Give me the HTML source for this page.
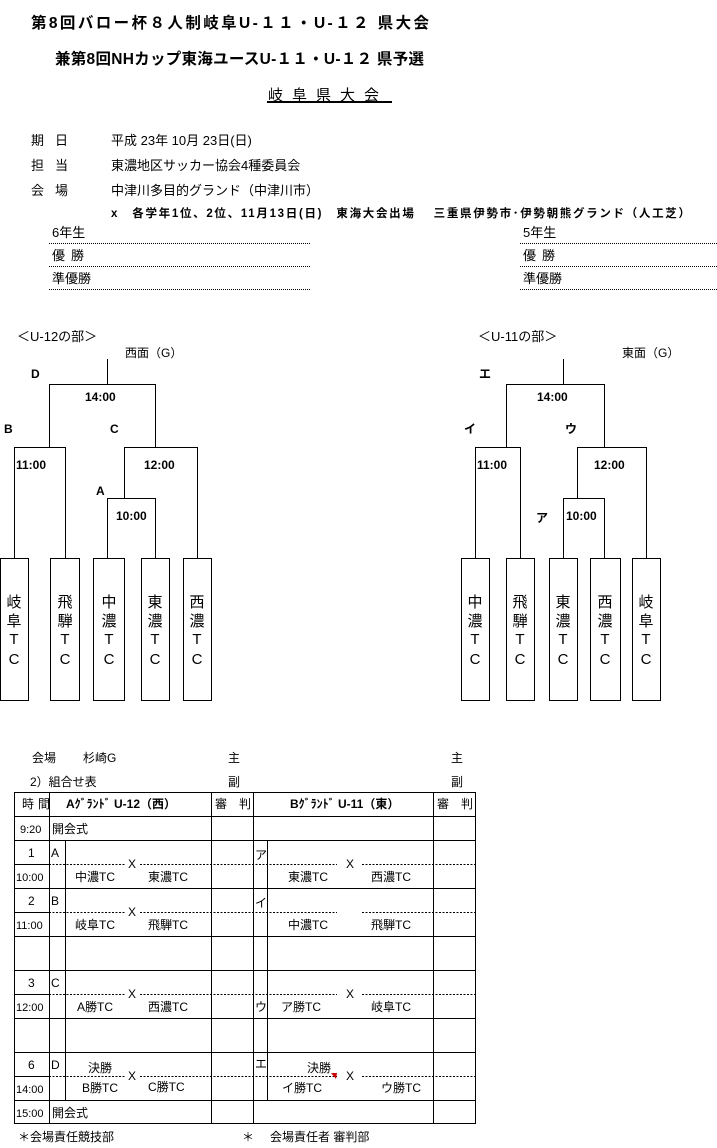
<!DOCTYPE html>
<html><head><meta charset="utf-8"><style>
html,body{margin:0;padding:0;background:#fff;}
svg{display:block;font-family:"Liberation Sans","Noto Sans CJK JP",sans-serif;}
text{fill:#000;}
</style></head><body>
<svg width="717" height="1148" viewBox="0 0 717 1148" xmlns="http://www.w3.org/2000/svg">
<g font-size="15.5">
<text x="31" y="28" font-weight="bold" textLength="398" lengthAdjust="spacing">第8回バロー杯８人制岐阜U-１１・U-１２ 県大会</text>
<text x="55" y="64" font-weight="bold" textLength="369" lengthAdjust="spacing">兼第8回NHカップ東海ユースU-１１・U-１２ 県予選</text>
</g>
<text x="268" y="100" font-size="15" letter-spacing="9">岐阜県大会</text>
<line x1="267" y1="102" x2="392" y2="102" stroke="#000" stroke-width="2"/>
<g font-size="13">
<text x="31" y="145" letter-spacing="11">期日</text><text x="111" y="145">平成 23年 10月 23日(日)</text>
<text x="31" y="170" letter-spacing="11">担当</text><text x="111" y="170">東濃地区サッカー協会4種委員会</text>
<text x="31" y="195" letter-spacing="11">会場</text><text x="111" y="195">中津川多目的グランド（中津川市）</text>
<text x="111" y="217" font-size="11.5" font-weight="bold" textLength="579" lengthAdjust="spacing">x　各学年1位、2位、11月13日(日)　東海大会出場　 三重県伊勢市･伊勢朝熊グランド（人工芝）</text>
<text x="52" y="237">6年生</text><text x="52" y="260" letter-spacing="6">優勝</text><text x="52" y="283">準優勝</text>
<text x="523" y="237">5年生</text><text x="523" y="260" letter-spacing="6">優勝</text><text x="523" y="283">準優勝</text>
</g>
<g stroke="#000" stroke-width="1" stroke-dasharray="1,1">
<line x1="49" y1="243.5" x2="310" y2="243.5"/><line x1="49" y1="266.5" x2="310" y2="266.5"/><line x1="49" y1="289.5" x2="310" y2="289.5"/>
<line x1="520" y1="243.5" x2="717" y2="243.5"/><line x1="520" y1="266.5" x2="717" y2="266.5"/><line x1="520" y1="289.5" x2="717" y2="289.5"/>
</g>

<g font-size="13"><text x="17" y="341">＜U-12の部＞</text><text x="125" y="357" font-size="12">西面（G）</text>
<text x="478" y="341">＜U-11の部＞</text><text x="622" y="357" font-size="12">東面（G）</text></g>
<g fill="none" stroke="#000" stroke-width="1">
<path d="M107.5 359V384.5M49.5 447V384.5H155.5V447M14.5 558V447.5H65.5V558M124.5 498V447.5H197.5V558M107.5 558V498.5H155.5V558"/>
<rect x="0.5" y="558.5" width="28" height="142"/><rect x="50.5" y="558.5" width="29" height="142"/><rect x="93.5" y="558.5" width="31" height="142"/><rect x="141.5" y="558.5" width="28" height="142"/><rect x="183.5" y="558.5" width="28" height="142"/>
<path d="M563.5 359V384.5M506.5 447V384.5H604.5V447M475.5 558V447.5H520.5V558M577.5 498V447.5H646.5V558M563.5 558V498.5H604.5V558"/>
<rect x="461.5" y="558.5" width="28" height="142"/><rect x="506.5" y="558.5" width="28" height="142"/><rect x="549.5" y="558.5" width="28" height="142"/><rect x="590.5" y="558.5" width="30" height="142"/><rect x="632.5" y="558.5" width="28" height="142"/>
</g>
<g font-size="12" font-weight="bold">
<text x="31" y="378">D</text><text x="85" y="401">14:00</text><text x="4" y="433">B</text><text x="110" y="433">C</text>
<text x="16" y="469">11:00</text><text x="144" y="469">12:00</text><text x="96" y="495">A</text><text x="116" y="520">10:00</text>
<text x="479" y="378">エ</text><text x="537" y="401">14:00</text><text x="464" y="433">イ</text><text x="565" y="433">ウ</text>
<text x="477" y="469">11:00</text><text x="594" y="469">12:00</text><text x="536" y="522">ア</text><text x="566" y="520">10:00</text>
</g>
<g font-size="15" text-anchor="middle">
<text x="14" y="607">岐</text><text x="14" y="626">阜</text><text x="14" y="644">T</text><text x="14" y="664">C</text>
<text x="65" y="607">飛</text><text x="65" y="626">騨</text><text x="65" y="644">T</text><text x="65" y="664">C</text>
<text x="109" y="607">中</text><text x="109" y="626">濃</text><text x="109" y="644">T</text><text x="109" y="664">C</text>
<text x="155" y="607">東</text><text x="155" y="626">濃</text><text x="155" y="644">T</text><text x="155" y="664">C</text>
<text x="197" y="607">西</text><text x="197" y="626">濃</text><text x="197" y="644">T</text><text x="197" y="664">C</text>
<text x="475" y="607">中</text><text x="475" y="626">濃</text><text x="475" y="644">T</text><text x="475" y="664">C</text>
<text x="520" y="607">飛</text><text x="520" y="626">騨</text><text x="520" y="644">T</text><text x="520" y="664">C</text>
<text x="563" y="607">東</text><text x="563" y="626">濃</text><text x="563" y="644">T</text><text x="563" y="664">C</text>
<text x="605" y="607">西</text><text x="605" y="626">濃</text><text x="605" y="644">T</text><text x="605" y="664">C</text>
<text x="646" y="607">岐</text><text x="646" y="626">阜</text><text x="646" y="644">T</text><text x="646" y="664">C</text>
</g>

<g font-size="12">
<text x="32" y="762">会場</text><text x="83" y="762">杉崎G</text><text x="228" y="762">主</text><text x="451" y="762">主</text>
<text x="30" y="786">2）組合せ表</text><text x="228" y="786">副</text><text x="451" y="786">副</text>
<text x="18" y="1141">＊会場責任競技部</text><text x="242" y="1141">＊</text><text x="270" y="1141">会場責任者 審判部</text>
</g>
<g fill="none" stroke="#000" stroke-width="1">
<rect x="14.5" y="792.5" width="461" height="331"/>
<path d="M14.5 816.5H475.5M14.5 840.5H475.5M14.5 888.5H475.5M14.5 936.5H475.5M14.5 970.5H475.5M14.5 1018.5H475.5M14.5 1052.5H475.5M14.5 1100.5H475.5"/>
<path d="M49.5 792V1124M211.5 792V1124M253.5 792V1124M433.5 792V1124M65.5 840V1100M267.5 840V1100M14.5 864.5H49.5M14.5 912.5H49.5M14.5 994.5H49.5M14.5 1076.5H49.5"/>
</g>
<g fill="none" stroke="#000" stroke-width="1" stroke-dasharray="2,1.5">
<path d="M49 864.5H126M140 864.5H337M362 864.5H475M49 912.5H126M140 912.5H337M362 912.5H475M49 994.5H126M140 994.5H337M362 994.5H475M49 1076.5H126M140 1076.5H337M362 1076.5H475"/>
</g>
<path d="M331 1073L337 1073L336 1079Z" fill="#c00"/>
<g font-size="12">
<text x="22" y="808" letter-spacing="4">時間</text><text x="66" y="808" font-weight="bold">Aｸﾞﾗﾝﾄﾞ  U-12（西）</text><text x="215" y="808" letter-spacing="12">審判</text>
<text x="290" y="808" font-weight="bold">Bｸﾞﾗﾝﾄﾞ  U-11（東）</text><text x="437" y="808" letter-spacing="12">審判</text>
<text x="20" y="833" font-size="11">9:20</text><text x="52" y="833">開会式</text>
<text x="28" y="857">1</text><text x="16" y="881" font-size="11">10:00</text><text x="51" y="857">A</text>
<text x="28" y="905">2</text><text x="16" y="929" font-size="11">11:00</text><text x="51" y="905">B</text>
<text x="28" y="987">3</text><text x="16" y="1011" font-size="11">12:00</text><text x="51" y="987">C</text>
<text x="28" y="1069">6</text><text x="16" y="1093" font-size="11">14:00</text><text x="51" y="1069">D</text>
<text x="16" y="1117" font-size="11">15:00</text><text x="52" y="1117">開会式</text>
<text x="128" y="868">X</text><text x="128" y="916">X</text><text x="128" y="998">X</text><text x="128" y="1080">X</text>
<text x="346" y="868">X</text><text x="346" y="998">X</text><text x="346" y="1080">X</text>
<text x="75" y="881">中濃TC</text><text x="148" y="881">東濃TC</text>
<text x="75" y="929">岐阜TC</text><text x="148" y="929">飛騨TC</text>
<text x="77" y="1011">A勝TC</text><text x="148" y="1011">西濃TC</text>
<text x="88" y="1072">決勝</text><text x="82" y="1092">B勝TC</text><text x="148" y="1091">C勝TC</text>
<text x="255" y="859">ア</text><text x="288" y="881">東濃TC</text><text x="371" y="881">西濃TC</text>
<text x="255" y="907">イ</text><text x="288" y="929">中濃TC</text><text x="371" y="929">飛騨TC</text>
<text x="255" y="1011">ウ</text><text x="281" y="1011">ア勝TC</text><text x="371" y="1011">岐阜TC</text>
<text x="255" y="1068">エ</text><text x="307" y="1072">決勝</text><text x="282" y="1092">イ勝TC</text><text x="381" y="1092">ウ勝TC</text>
</g>
</svg>
</body></html>
